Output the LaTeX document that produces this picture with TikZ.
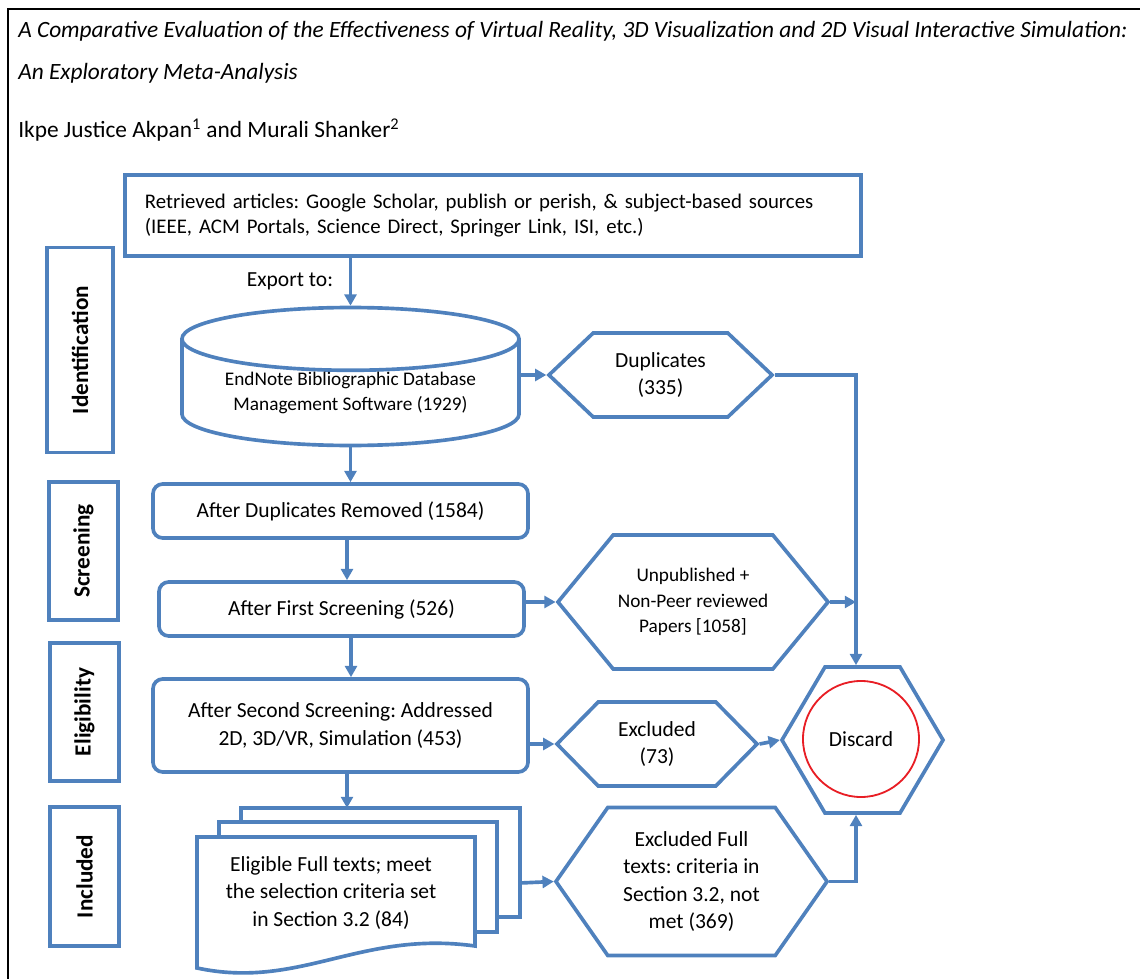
\documentclass[tikz,border=0pt]{standalone}
\usepackage{fontspec}
\setmainfont{Carlito}
\usepackage{tikz}
\usetikzlibrary{arrows.meta, calc, shapes.geometric, shapes.symbols}
\definecolor{flowblue}{RGB}{79,129,189}
\definecolor{discred}{RGB}{232,30,37}
\newcommand{\bigtxt}{\fontsize{15.3}{19.5}\selectfont}
\newcommand{\smalltxt}{\fontsize{13.7}{18}\selectfont}
\newcommand{\headtxt}{\fontsize{16.6}{20}\selectfont}

\begin{document}
\frenchspacing
\begin{tikzpicture}[x=0.025cm, y=-0.025cm,
  flowline/.style={draw=flowblue, line width=2.6pt},
  arr/.style={flowline, -{Triangle[length=8pt,width=8.5pt]}},
  flowbox/.style={flowline, rectangle, inner sep=0pt, align=center, font=\bigtxt},
  roundbox/.style={flowbox, rounded corners=7pt},
  sidebox/.style={flowbox, rotate=90, font=\fontsize{16.5}{20}\selectfont\bfseries},
  hexbox/.style={flowline, signal, signal to=west and east, inner sep=0pt, align=center, font=\bigtxt},
  dbase/.style={flowline, cylinder, shape border rotate=90, aspect=0.25, inner sep=0pt, align=center, font=\smalltxt},
  head/.style={anchor=base west, inner sep=0pt, font=\headtxt}]
\useasboundingbox (0,0) rectangle (1140,979);
\draw[line width=1.8pt] (8,979) -- (8,9) -- (1140,9);

\node[head, font=\headtxt\itshape] (title1) at (18,38) {A Comparative Evaluation of the Effectiveness of Virtual Reality, 3D Visualization and 2D Visual Interactive Simulation:};
\node[head, font=\headtxt\itshape] (title2) at (18,80) {An Exploratory Meta-Analysis};
\node[head] (authors) at (18,138) {Ikpe Justice Akpan\textsuperscript{1} and Murali Shanker\textsuperscript{2}};

\node[sidebox, minimum width=5.125cm, minimum height=1.65cm] (ident) at (80,350) {Identification};
\node[sidebox, minimum width=3.45cm, minimum height=1.725cm] (screen) at (83.5,551) {Screening};
\node[sidebox, minimum width=3.45cm, minimum height=1.725cm] (elig) at (84.5,712) {Eligibility};
\node[sidebox, minimum width=3.475cm, minimum height=1.725cm] (incl) at (84.5,876.5) {Included};

\node[flowbox, minimum width=18.4cm, minimum height=2.025cm, text width=17.4cm, align=left, font=\fontsize{14.8}{17.7}\selectfont] (src) at (493,215.5) {Retrieved articles: Google Scholar, publish or perish, \& subject-based sources\\(IEEE, ACM Portals, Science Direct, Springer Link, ISI, etc.)};
\node[dbase, minimum width=8.425cm, minimum height=2.9cm, anchor=shape center] (db) at (350.5,376.5) {EndNote Bibliographic Database\\Management Software (1929)};
\node[hexbox, minimum width=5.575cm, minimum height=2.1cm, signal pointer angle=87] (dup) at (660.5,375) {Duplicates\\(335)};

\node[roundbox, minimum width=9.375cm, minimum height=1.35cm] (rem) at (340.5,511) {After Duplicates Removed (1584)};
\node[roundbox, minimum width=9.125cm, minimum height=1.35cm] (first) at (341.5,609) {After First Screening (526)};
\node[roundbox, minimum width=9.375cm, minimum height=2.325cm] (second) at (340.5,725.5) {After Second Screening: Addressed\\2D, 3D/VR, Simulation (453)};

\node[hexbox, minimum width=6.75cm, minimum height=3.35cm, signal pointer angle=101, font=\smalltxt] (unpub) at (693,602) {Unpublished +\\Non-Peer reviewed\\Papers [1058]};
\node[hexbox, minimum width=5cm, minimum height=2.1cm, signal pointer angle=91] (excl) at (657,744) {Excluded\\(73)};
\node[hexbox, minimum width=6.775cm, minimum height=3.7cm, signal pointer angle=110] (exfull) at (691.5,881.5) {Excluded Full\\texts: criteria in\\Section 3.2, not\\met (369)};
\node[hexbox, minimum width=4.025cm, minimum height=3.65cm, signal pointer angle=119] (discard) at (862.5,740) {};
\node[draw=discred, line width=1.3pt, circle, minimum size=2.9cm, font=\bigtxt] (bin) at (861,739) {Discard};

\draw[flowline, fill=white] (241,808) rectangle (520,917);
\draw[flowline, fill=white] (219,822) rectangle (497,932);
\draw[flowline, fill=white] (197,837) -- (475,837) -- (475,946) .. controls (360,930) and (300,990) .. (197,968) -- cycle;
\node[font=\bigtxt, align=center] (eligtxt) at (331,893) {Eligible Full texts; meet\\the selection criteria set\\in Section 3.2 (84)};
\coordinate (stacktop) at (347,808);
\coordinate (stackout) at (520,883);
\coordinate (binline) at (856,740);

\node[anchor=east, font=\bigtxt] (export) at (338,281) {Export to:};

\draw[arr] (src.south -| db.north) -- (db.north);
\draw[arr] (dup.west -| db.east) -- (dup.west);
\draw[arr] (dup.east) -| (binline |- discard.north);
\draw[arr] (db.south) -- (db.south |- rem.north);
\draw[arr] (rem.south -| stacktop) -- (stacktop |- first.north);
\draw[arr] ($(first.south)+(9.5,0)$) -- ($(second.north)+(10.5,0)$);
\draw[arr] (second.south -| stacktop) -- (stacktop);
\draw[arr] (first.east |- unpub.west) -- (unpub.west);
\draw[arr] (unpub.east) -- (unpub.east -| binline);
\draw[arr] (second.east |- excl.west) -- (excl.west);
\draw[arr] (excl.east) -- (discard.west);
\draw[arr] (stackout) -- (exfull.west);
\draw[arr] (exfull.east) -| (binline |- discard.south);
\end{tikzpicture}
\end{document}
